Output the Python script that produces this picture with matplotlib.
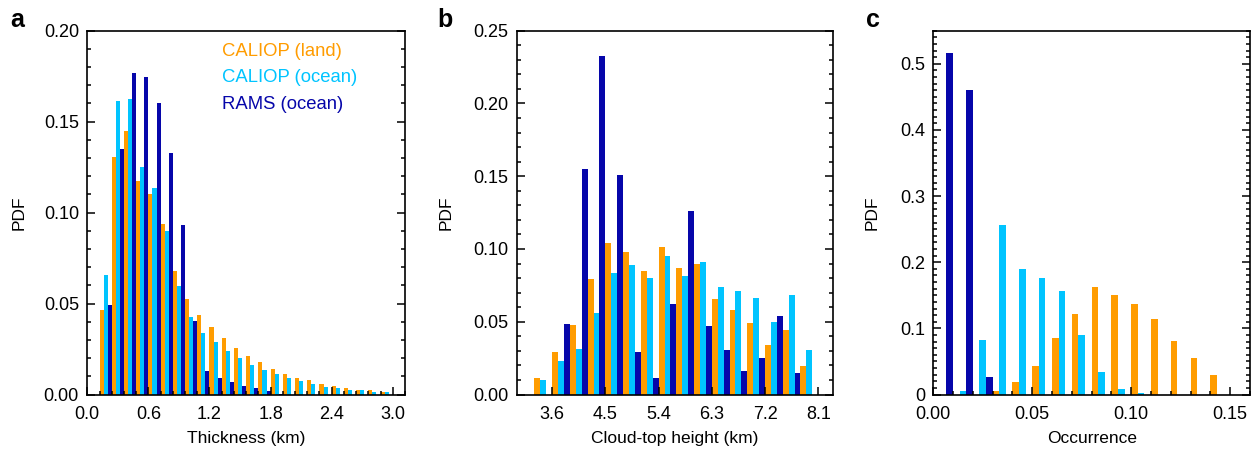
import matplotlib
matplotlib.use("Agg")
import matplotlib.pyplot as plt
import numpy as np
from matplotlib.ticker import MultipleLocator

plt.rcParams["font.family"] = ["Liberation Sans", "DejaVu Sans"]

ORANGE = "#ff9c00"
CYAN = "#00c4ff"
NAVY = "#0606aa"
SERIES = ["CALIOP (land)", "CALIOP (ocean)", "RAMS (ocean)"]
COLORS = [ORANGE, CYAN, NAVY]

# panel a: cloud thickness, bins of 0.12 km starting at 0.12 km
thick_bins = np.arange(1, 25) * 0.12
thick_land = [0.0466, 0.1306, 0.1447, 0.1173, 0.1103, 0.0937, 0.0679, 0.0524,
              0.0435, 0.0373, 0.0312, 0.0258, 0.0214, 0.0177, 0.0142, 0.0115,
              0.0093, 0.0077, 0.0060, 0.0047, 0.0037, 0.0027, 0.0022, 0.0013]
thick_ocean = [0.0658, 0.1616, 0.1622, 0.1251, 0.1136, 0.0900, 0.0594, 0.0424,
               0.0340, 0.0287, 0.0241, 0.0203, 0.0164, 0.0133, 0.0110, 0.0088,
               0.0073, 0.0055, 0.0040, 0.0037, 0.0027, 0.0022, 0.0016, 0.0011]
thick_rams = [0.0493, 0.1348, 0.1770, 0.1748, 0.1600, 0.1326, 0.0933, 0.0405,
              0.0128, 0.0093, 0.0068, 0.0046, 0.0033, 0.0018, 0.0004, 0.0,
              0.0, 0.0, 0.0, 0.0, 0.0, 0.0, 0.0, 0.0]

# panel b: cloud-top height, bins of 0.3 km starting at 3.3 km
top_bins = 3.3 + np.arange(16) * 0.3
top_land = [0.0110, 0.0290, 0.0475, 0.0797, 0.1041, 0.0980, 0.0849, 0.1014,
            0.0870, 0.0897, 0.0658, 0.0582, 0.0493, 0.0342, 0.0445, 0.0199]
top_ocean = [0.0103, 0.0228, 0.0315, 0.0562, 0.0836, 0.0890, 0.0804, 0.0952,
             0.0815, 0.0911, 0.0740, 0.0712, 0.0664, 0.0500, 0.0685, 0.0308]
top_rams = [0.0, 0.0482, 0.1548, 0.2324, 0.1507, 0.0290, 0.0110, 0.0623,
            0.1260, 0.0473, 0.0308, 0.0164, 0.0253, 0.0541, 0.0151, 0.0]

# panel c: occurrence, bins of 0.01
occ_bins = np.arange(15) * 0.01
occ_land = [0.0, 0.0, 0.0, 0.0050, 0.0187, 0.0430, 0.0850, 0.1218,
            0.1628, 0.1507, 0.1370, 0.1143, 0.0809, 0.0551, 0.0293]
occ_ocean = [0.0, 0.0050, 0.0819, 0.2563, 0.1896, 0.1759, 0.1562, 0.0900,
             0.0339, 0.0081, 0.0020, 0.0, 0.0, 0.0, 0.0]
occ_rams = [0.5157, 0.4596, 0.0258, 0.0, 0.0, 0.0, 0.0, 0.0,
            0.0, 0.0, 0.0, 0.0, 0.0, 0.0, 0.0]


def grouped(ax, edges, width, series):
    w = width / 3.0
    for i, (vals, col) in enumerate(zip(series, COLORS)):
        ax.bar(edges + i * w, vals, width=w, align="edge", color=col, linewidth=0)


def style(ax):
    for s in ax.spines.values():
        s.set_linewidth(1.2)
    ax.tick_params(which="both", direction="in", right=True, top=False,
                   labelsize=13, width=1.1)
    ax.tick_params(axis="x", which="both", pad=8)
    ax.tick_params(axis="y", which="both", pad=6)
    ax.tick_params(which="major", length=6)
    ax.tick_params(which="minor", length=3)


fig = plt.figure(figsize=(12.56, 4.51), dpi=100)
W, H = 1256.0, 451.0


def add_axes(left, right, top, bottom):
    return fig.add_axes([left / W, 1 - bottom / H, (right - left) / W, (bottom - top) / H])


ax_a = add_axes(87.3, 405, 30.7, 394.5)
ax_b = add_axes(516.7, 833, 30.7, 394.5)
ax_c = add_axes(933.3, 1250, 30.7, 394.5)

grouped(ax_a, thick_bins, 0.12, [thick_land, thick_ocean, thick_rams])
ax_a.set_xlim(0, 3.12)
ax_a.set_ylim(0, 0.20)
ax_a.set_xticks(np.arange(0, 3.01, 0.6))
ax_a.set_xticklabels([f"{v:.1f}" for v in np.arange(0, 3.01, 0.6)])
ax_a.xaxis.set_minor_locator(MultipleLocator(0.12))
ax_a.set_yticks(np.arange(0, 0.201, 0.05))
ax_a.set_yticklabels([f"{v:.2f}" for v in np.arange(0, 0.201, 0.05)])
ax_a.yaxis.set_minor_locator(MultipleLocator(0.01))
ax_a.set_xlabel("Thickness (km)", fontsize=12.5, va="top")
for name, col, yy in zip(SERIES, COLORS, [0.9415, 0.870, 0.798]):
    ax_a.text(0.423, yy, name, color=col, fontsize=13.3, va="center", ha="left",
              transform=ax_a.transAxes)

grouped(ax_b, top_bins, 0.3, [top_land, top_ocean, top_rams])
ax_b.set_xlim(3.0, 8.35)
ax_b.set_ylim(0, 0.25)
ax_b.set_xticks(np.arange(3.6, 8.11, 0.9))
ax_b.set_xticklabels([f"{v:.1f}" for v in np.arange(3.6, 8.11, 0.9)])
ax_b.set_yticks(np.arange(0, 0.251, 0.05))
ax_b.set_yticklabels([f"{v:.2f}" for v in np.arange(0, 0.251, 0.05)])
ax_b.yaxis.set_minor_locator(MultipleLocator(0.01))
ax_b.set_xlabel("Cloud-top height (km)", fontsize=12.5, va="top")

grouped(ax_c, occ_bins, 0.01, [occ_land, occ_ocean, occ_rams])
ax_c.set_xlim(0, 0.16)
ax_c.set_ylim(0, 0.55)
ax_c.set_xticks(np.arange(0, 0.151, 0.05))
ax_c.set_xticklabels([f"{v:.2f}" for v in np.arange(0, 0.151, 0.05)])
ax_c.xaxis.set_minor_locator(MultipleLocator(0.01))
ax_c.set_yticks(np.arange(0, 0.51, 0.1))
ax_c.set_yticklabels(["0"] + [f"{v:.1f}" for v in np.arange(0.1, 0.51, 0.1)])
ax_c.yaxis.set_minor_locator(MultipleLocator(0.01))
ax_c.set_xlabel("Occurrence", fontsize=12.5, va="top")

for ax, lx, tag, tx in [(ax_a, -0.191, "a", 10), (ax_b, -0.198, "b", 437), (ax_c, -0.168, "c", 866)]:
    style(ax)
    ax.set_ylabel("PDF", fontsize=12.5)
    ax.yaxis.set_label_coords(lx, 0.5)
    ax.xaxis.set_label_coords(0.5, -0.099)
    fig.text(tx / W, 1 - 27 / H, tag, fontsize=18, fontweight="bold", va="baseline")

fig.savefig("out.png", dpi=100)
